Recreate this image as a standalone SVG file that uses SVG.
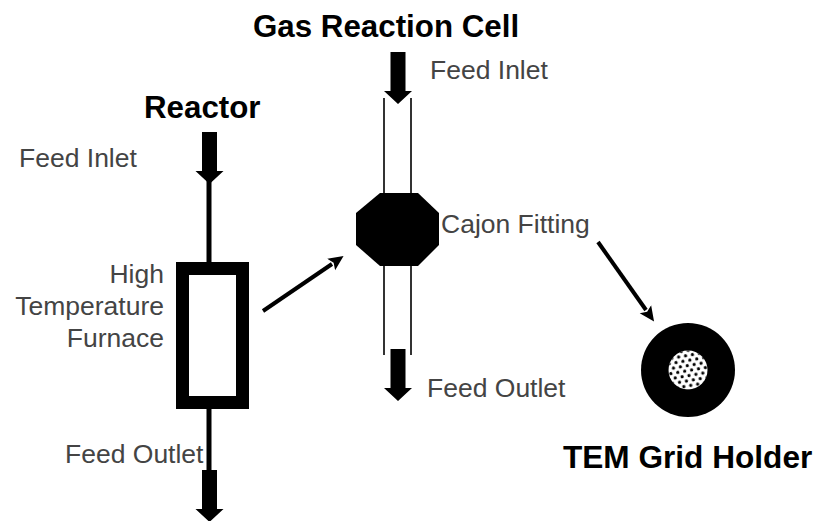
<svg xmlns="http://www.w3.org/2000/svg" width="815" height="521" viewBox="0 0 815 521">
<style>
.t{font-family:"Liberation Sans",Arial,sans-serif;font-size:26.500px;fill:#444}
.b{font-family:"Liberation Sans",Arial,sans-serif;font-size:31.300px;font-weight:bold;fill:#000}
.l{stroke:#333;stroke-width:2;fill:none}
.k{stroke:#000;fill:none}
</style>
<defs>
<pattern id="dots" width="7" height="10" patternUnits="userSpaceOnUse" patternTransform="translate(681 360) rotate(-10)">
<circle cx="1.700" cy="1.700" r="1.600" fill="#000"/><circle cx="5.200" cy="6.700" r="1.600" fill="#000"/>
</pattern>
<path id="down" d="M-7.500 0H7.500V39H14L0 52L-14 39H-7.500Z" fill="#000"/>
<marker id="ah" markerWidth="16" markerHeight="16" refX="1" refY="8" orient="auto" markerUnits="userSpaceOnUse"><path d="M0 1L15 8L0 15L3 8Z" fill="#000"/></marker>
</defs>
<rect width="815" height="521" fill="#fff"/>
<g id="connectors">
<line class="k" stroke-width="5" x1="209" y1="175" x2="209" y2="265"/>
<line class="k" stroke-width="5" x1="209" y1="405" x2="209" y2="475"/>
<line class="l" x1="384" y1="98" x2="384" y2="355"/>
<line class="l" x1="411" y1="98" x2="411" y2="355"/>
<use href="#down" x="209.500" y="132"/>
<use href="#down" x="209.500" y="470"/>
<use href="#down" x="398" y="52"/>
<use href="#down" x="398" y="349"/>
<line class="k" stroke-width="4" x1="263" y1="311" x2="332" y2="264" marker-end="url(#ah)"/>
<line class="k" stroke-width="4" x1="598" y1="242" x2="646" y2="310" marker-end="url(#ah)"/>
</g>
<g id="furnace"><rect x="182.500" y="268.500" width="60" height="134" fill="#fff" stroke="#000" stroke-width="13"/></g>
<g id="cajon"><polygon points="380,193 418,193 439,213 439,245 418,266 380,266 356,245 356,213" fill="#000"/></g>
<g id="grid-holder"><circle cx="688" cy="370" r="47" fill="#000"/><circle cx="688" cy="370" r="19.500" fill="#fff"/><circle cx="688" cy="370" r="19.500" fill="url(#dots)"/></g>
<g id="labels">
<text class="b" x="253" y="37">Gas Reaction Cell</text>
<text class="b" x="144" y="118">Reactor</text>
<text class="b" x="563" y="468" style="font-size:31.600px">TEM Grid Holder</text>
<text class="t" x="430" y="79">Feed Inlet</text>
<text class="t" x="19" y="167">Feed Inlet</text>
<text class="t" x="441" y="233">Cajon Fitting</text>
<text class="t" x="164" y="283" text-anchor="end">High</text>
<text class="t" x="164" y="315" text-anchor="end">Temperature</text>
<text class="t" x="164" y="347" text-anchor="end">Furnace</text>
<text class="t" x="427" y="397">Feed Outlet</text>
<text class="t" x="65" y="463">Feed Outlet</text>
</g>
</svg>
